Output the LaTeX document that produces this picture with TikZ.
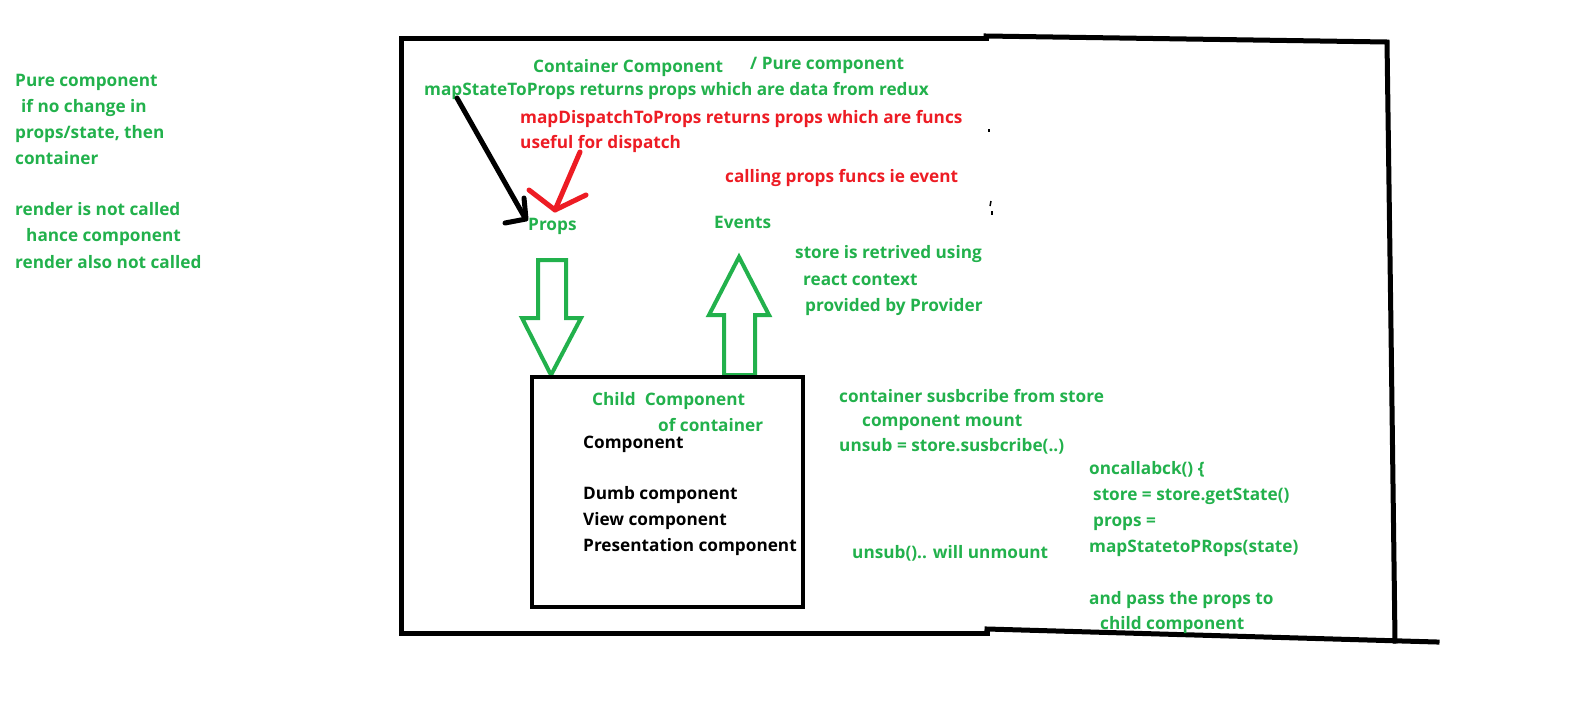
\documentclass[tikz,border=0pt]{standalone}
\usepackage{fontspec}
\setmainfont{Open Sans}
\definecolor{pgreen}{HTML}{22B14C}
\definecolor{pred}{HTML}{ED1C24}
\begin{document}
\begin{tikzpicture}[x=1pt,y=-1pt,
  txt/.style={anchor=base west, inner sep=0pt, font=\fontsize{17.2}{19}\selectfont\bfseries},
  gtxt/.style={txt, text=pgreen},
  rtxt/.style={txt, text=pred},
  ktxt/.style={txt, text=black},
  frame/.style={line width=5pt, black, line cap=rect, line join=miter},
  hollow/.style={draw=pgreen, line width=4pt, line join=miter},
  karrow/.style={line width=5pt, black, line cap=round, line join=round},
  rarrow/.style={line width=5pt, pred, line cap=round, line join=round},
  speck/.style={line width=1.5pt, black}]
\useasboundingbox (0,0) rectangle (1594,723);

% left notes
\node[gtxt] (l1) at (15,86) {Pure component};
\node[gtxt] (l2) at (21,112) {if no change in};
\node[gtxt] (l3) at (15,138) {props/state, then};
\node[gtxt] (l4) at (15,164) {container};
\node[gtxt] (l5) at (15,215) {render is not called};
\node[gtxt] (l6) at (26,241) {hance component};
\node[gtxt] (l7) at (15,268) {render also not called};

% outer frame
\coordinate (tl) at (401.5,38.5);
\coordinate (t1) at (986,38.5);
\coordinate (t2) at (986,36);
\coordinate (tr) at (1387,42);
\coordinate (rm) at (1391,330);
\coordinate (br) at (1395,641);
\coordinate (bl) at (401.5,633);
\coordinate (b1) at (987,633);
\coordinate (b2) at (987,629);
\coordinate (be) at (1437,642);
\draw[frame] (t1) -- (tl) -- (bl) -- (b1);
\draw[frame] (t2) -- (tr) -- (rm) -- (br);
\draw[frame] (b2) -- (be);

% specks
\draw[speck] (989,129) -- (989,132);
\draw[speck] (991,201) -- (990,206);
\draw[speck] (992,211) -- (992,215);

% top texts
\node[gtxt] (cc) at (533,72) {Container Component};
\node[gtxt] (pc) at (750,69) {/ Pure component};
\node[gtxt] (ms) at (424,95) {mapStateToProps returns props which are data from redux};
\node[rtxt] (md) at (520,123) {mapDispatchToProps returns props which are funcs};
\node[rtxt] (uf) at (520,148) {useful for dispatch};
\node[rtxt] (cp) at (725,182) {calling props funcs ie event};
\node[gtxt] (props) at (528,230) {Props};
\node[gtxt] (events) at (714,228) {Events};
\node[gtxt] (st1) at (795,258) {store is retrived using};
\node[gtxt] (st2) at (803,285) {react context};
\node[gtxt] (st3) at (805,311) {provided by Provider};

% arrows to Props
\coordinate (ks) at (457,98);
\coordinate (ke) at (525,218);
\draw[karrow] (ks) -- (ke);
\draw[karrow] (524,198) -- (526,219) -- (505,223);
\coordinate (rs) at (580,152);
\coordinate (re) at (555,210);
\draw[rarrow] (rs) -- (re);
\draw[rarrow] (529,190) -- (555,210) -- (586,195);

% hollow arrows
\draw[hollow] (538,260) -- (566,260) -- (566,318) -- (581,318) -- (551,375) -- (522,318) -- (538,318) -- cycle;
\draw[hollow] (739,257) -- (769,315) -- (755,315) -- (755,375) -- (724,375) -- (724,315) -- (709,315) -- cycle;

% child box
\node[draw, line width=4.5pt, minimum width=271pt, minimum height=230pt, inner sep=0pt] (child) at (667.5,492) {};
\node[gtxt] (ch1) at (592,405) {Child\ \ Component};
\node[gtxt] (ch2) at (658,431) {of container};
\node[ktxt] (c1) at (583,448) {Component};
\node[ktxt] (c2) at (583,499) {Dumb component};
\node[ktxt] (c3) at (583,525) {View component};
\node[ktxt] (c4) at (583,551) {Presentation component};

% subscribe notes
\node[gtxt] (s1) at (839,402) {container susbcribe from store};
\node[gtxt] (s2) at (862,426) {component mount};
\node[gtxt] (s3) at (839,451) {unsub = store.susbcribe(..)};
\node[gtxt] (s4) at (852,558) {unsub().. will unmount};

\node[gtxt] (o1) at (1089,474) {oncallabck() \{};
\node[gtxt] (o2) at (1093,500) {store = store.getState()};
\node[gtxt] (o3) at (1093,526) {props =};
\node[gtxt] (o4) at (1089,552) {mapStatetoPRops(state)};
\node[gtxt] (o5) at (1089,604) {and pass the props to};
\node[gtxt] (o6) at (1100,629) {child component};
\end{tikzpicture}
\end{document}
